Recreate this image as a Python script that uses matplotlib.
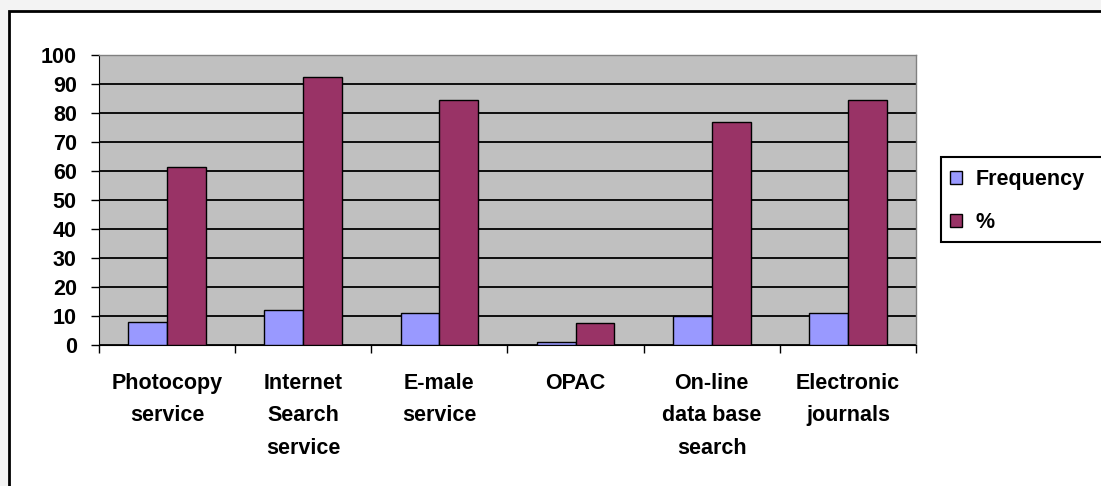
import matplotlib
matplotlib.use("Agg")
import matplotlib.pyplot as plt
from matplotlib.patches import Rectangle
import numpy as np

categories = ["Photocopy\nservice", "Internet\nSearch\nservice", "E-male\nservice",
              "OPAC", "On-line\ndata base\nsearch", "Electronic\njournals"]
frequency = [8, 12, 11, 1, 10, 11]
percent = [61.5, 92.3, 84.6, 7.7, 76.9, 84.6]
series_names = ["Frequency", "%"]
yticks = [0, 10, 20, 30, 40, 50, 60, 70, 80, 90, 100]

plt.rcParams['font.family'] = ['Liberation Sans', 'DejaVu Sans']
FS = 15.5

W, H = 1101, 486
fig = plt.figure(figsize=(W / 100, H / 100), dpi=100, facecolor="#F3F3F3")

# outer chart frame
frame = Rectangle((9 / W, -0.1), 1.2, (H - 11) / H + 0.1, transform=fig.transFigure,
                  facecolor="white", edgecolor="black", linewidth=2, zorder=-10)
fig.add_artist(frame)

ax = fig.add_axes([99 / W, (H - 345) / H, (916 - 99) / W, (345 - 55) / H])
ax.set_zorder(2)
ax.set_facecolor("#C0C0C0")

x = np.arange(len(categories))
bw = 0.2857
c1, c2 = "#9999FF", "#993366"
ax.bar(x - bw / 2, frequency, bw, color=c1, edgecolor="black", linewidth=1, zorder=3)
ax.bar(x + bw / 2, percent, bw, color=c2, edgecolor="black", linewidth=1, zorder=3)

ax.set_xlim(-0.5, len(categories) - 0.5)
ax.set_ylim(0, 100)
ax.set_yticks(yticks)
ax.set_yticklabels([str(v) for v in yticks], fontsize=FS, fontweight="bold")
ax.yaxis.grid(True, color="black", linewidth=1.3, zorder=1)
ax.set_axisbelow(True)

ax.set_xticks(np.arange(len(categories) + 1) - 0.5)
ax.set_xticklabels([])
ax.set_xticks(x, minor=True)
ax.set_xticklabels(categories, minor=True, fontsize=FS, fontweight="bold", linespacing=1.72)
ax.tick_params(axis="x", which="minor", length=0, pad=20)
ax.tick_params(axis="x", which="major", length=6, width=1, direction="out")
ax.tick_params(axis="y", length=6, width=1, direction="out", pad=10)

for s in ["top", "right"]:
    ax.spines[s].set_color("#808080")
    ax.spines[s].set_linewidth(1)
ax.spines["left"].set_color("black")
ax.spines["bottom"].set_color("black")

# legend box
lbox = Rectangle((941 / W, (H - 242) / H), 0.5, 85 / H, transform=fig.transFigure,
                 facecolor="white", edgecolor="black", linewidth=1.5, zorder=3)
fig.add_artist(lbox)
handles = [Rectangle((0, 0), 1, 1, facecolor=c1, edgecolor="black", linewidth=1),
           Rectangle((0, 0), 1, 1, facecolor=c2, edgecolor="black", linewidth=1)]
leg = fig.legend(handles, series_names, loc="upper left",
                 bbox_to_anchor=(944 / W, (H - 163) / H), frameon=False,
                 prop={"size": FS, "weight": "bold"}, handlelength=0.55, handleheight=0.55,
                 handletextpad=0.6, labelspacing=1.0, borderaxespad=0, borderpad=0.3)
leg.set_zorder(5)

fig.savefig("out.png", dpi=100, facecolor=fig.get_facecolor())
